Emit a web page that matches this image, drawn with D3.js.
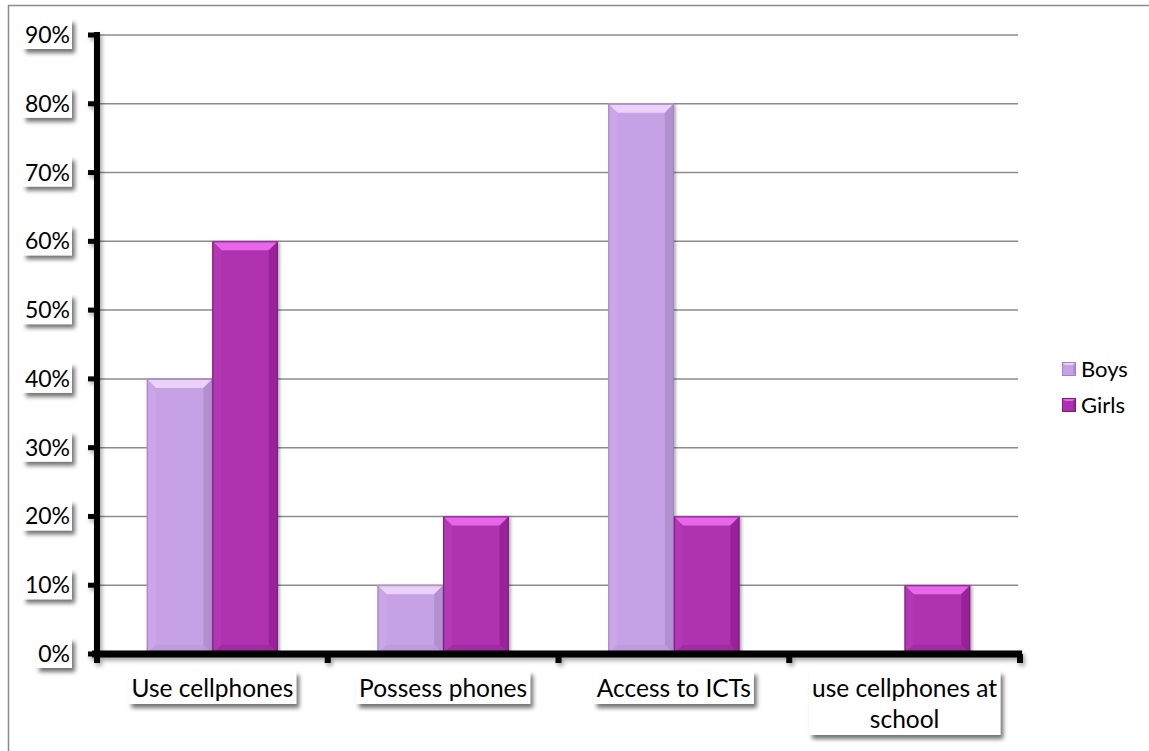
<!DOCTYPE html>
<html>
<head>
<meta charset="utf-8">
<script src="https://cdn.jsdelivr.net/npm/d3@7"></script>
<style>
  html, body { margin: 0; padding: 0; background: #fff; }
  svg { display: block; }
  text { font-family: Lato, "Open Sans", sans-serif; fill: #000; }
</style>
</head>
<body>
<svg id="chart" width="1149" height="751"></svg>
<script>
// Survey shares by group
const categories = ["Use cellphones", "Possess phones", "Access to ICTs", "use cellphones at school"];
const series = ["Boys", "Girls"];
const boys  = [0.40, 0.10, 0.80, 0.00];
const girls = [0.60, 0.20, 0.20, 0.10];
const yTicks = [0, 0.1, 0.2, 0.3, 0.4, 0.5, 0.6, 0.7, 0.8, 0.9];
const seriesValues = { Boys: boys, Girls: girls };

// Fill palette per series: base face plus bevel faces
const palette = {
  Boys:  { base: "#C6A1E6", top: "#EBD2FA", left: "#CAA6E8", right: "#B290D0", bottom: "#BE9ADE", edge: "#A383C0" },
  Girls: { base: "#AF30AF", top: "#E866EA", left: "#B337B3", right: "#972499", bottom: "#A42CA5", edge: "#7E1C80" }
};

const svg = d3.select("#chart");
const margin = { left: 97, right: 129, top: 35, bottom: 97 };
const W = 1149, H = 751;

const defs = svg.append("defs");
const boxShadow = defs.append("filter").attr("id", "boxShadow")
  .attr("x", "-20%").attr("y", "-30%").attr("width", "150%").attr("height", "180%");
boxShadow.append("feDropShadow").attr("dx", 3).attr("dy", 4).attr("stdDeviation", 2)
  .attr("flood-color", "#000").attr("flood-opacity", 0.55);
const barShadow = defs.append("filter").attr("id", "barShadow")
  .attr("x", "-20%").attr("y", "-10%").attr("width", "150%").attr("height", "130%");
barShadow.append("feDropShadow").attr("dx", 2).attr("dy", 1).attr("stdDeviation", 1.5)
  .attr("flood-color", "#000").attr("flood-opacity", 0.3);
const axisShadow = defs.append("filter").attr("id", "axisShadow")
  .attr("x", "-5%").attr("y", "-50%").attr("width", "110%").attr("height", "300%");
axisShadow.append("feDropShadow").attr("dx", 2).attr("dy", 3).attr("stdDeviation", 2)
  .attr("flood-color", "#000").attr("flood-opacity", 0.35);

// Outer chart frame
svg.append("rect")
  .attr("x", 8.5).attr("y", 5.5).attr("width", 1160).attr("height", 800)
  .attr("fill", "none").attr("stroke", "#8a8a8a").attr("stroke-width", 1.5);

const x0 = d3.scaleBand().domain(categories).range([margin.left, W - margin.right]).paddingInner(0).paddingOuter(0);
const x1 = d3.scaleBand().domain(series).range([0, x0.bandwidth()]).paddingInner(0).paddingOuter(0.76);
const y = d3.scaleLinear().domain([0, 0.9]).range([H - margin.bottom, margin.top]);

// Horizontal gridlines
svg.append("g").selectAll("line").data(yTicks.filter(d => d > 0)).join("line")
  .attr("x1", x0.range()[0]).attr("x2", x0.range()[1] - 2)
  .attr("y1", d => y(d)).attr("y2", d => y(d))
  .attr("stroke", "#8c8c8c").attr("stroke-width", 1.5);

// Bars with bevelled faces
const bars = [];
categories.forEach((c, i) => {
  series.forEach(s => {
    const v = seriesValues[s][i];
    if (v > 0) bars.push({ c, s, v });
  });
});

const barG = svg.append("g").selectAll("g").data(bars).join("g")
  .attr("filter", "url(#barShadow)");

barG.each(function (d) {
  const g = d3.select(this);
  const bx = x0(d.c) + x1(d.s);
  const bw = x1.bandwidth();
  const by = y(d.v);
  const bh = y(0) - by;
  const b = Math.min(9, bh / 2, bw / 2);
  const p = palette[d.s];
  g.append("rect").attr("x", bx).attr("y", by).attr("width", bw).attr("height", bh).attr("fill", p.base);
  const poly = (pts, fill) => g.append("polygon").attr("points", pts.map(q => q.join(",")).join(" ")).attr("fill", fill);
  poly([[bx, by], [bx + bw, by], [bx + bw - b, by + b], [bx + b, by + b]], p.top);
  poly([[bx, by], [bx + b, by + b], [bx + b, by + bh - b], [bx, by + bh]], p.left);
  poly([[bx + bw, by], [bx + bw, by + bh], [bx + bw - b, by + bh - b], [bx + bw - b, by + b]], p.right);
  poly([[bx, by + bh], [bx + b, by + bh - b], [bx + bw - b, by + bh - b], [bx + bw, by + bh]], p.bottom);
  g.append("rect").attr("x", bx + 0.5).attr("y", by + 0.5).attr("width", bw - 1).attr("height", bh - 1)
    .attr("fill", "none").attr("stroke", p.edge).attr("stroke-width", 1);
});

// Axes: heavy black lines with stub ticks
const axes = svg.append("g").attr("filter", "url(#axisShadow)");
const [xa, xb] = x0.range();
axes.append("line").attr("x1", xa).attr("x2", xa).attr("y1", y(0.9) - 3).attr("y2", y(0) + 4)
  .attr("stroke", "#000").attr("stroke-width", 6);
axes.selectAll(".ytick").data(yTicks).join("line").attr("class", "ytick")
  .attr("x1", xa - 9).attr("x2", xa).attr("y1", d => y(d)).attr("y2", d => y(d))
  .attr("stroke", "#000").attr("stroke-width", 5);
axes.append("line").attr("x1", xa - 5).attr("x2", xb + 2).attr("y1", y(0)).attr("y2", y(0))
  .attr("stroke", "#000").attr("stroke-width", 7);
const bounds = categories.map(c => x0(c)).concat([xb]);
axes.selectAll(".xtick").data(bounds).join("line").attr("class", "xtick")
  .attr("x1", d => d).attr("x2", d => d).attr("y1", y(0)).attr("y2", y(0) + 9)
  .attr("stroke", "#000").attr("stroke-width", 6);

// Boxed tick labels
function boxedLabel(parent, lines, xPos, yPos, anchor, lineH, padX, padY, size) {
  const g = parent.append("g");
  const rect = g.append("rect").attr("fill", "#fff").attr("filter", "url(#boxShadow)");
  const t = g.append("text").attr("text-anchor", anchor).style("font-size", size + "px");
  lines.forEach((ln, k) => {
    t.append("tspan").attr("x", xPos).attr("y", yPos + k * lineH).text(ln);
  });
  const bb = t.node().getBBox();
  rect.attr("x", bb.x - padX).attr("y", bb.y - padY).attr("width", bb.width + 2 * padX).attr("height", bb.height + 2 * padY);
  return g;
}

const yLabels = svg.append("g");
yTicks.forEach(d => {
  boxedLabel(yLabels, [d3.format(".0%")(d)], xa - 27, y(d) + 8, "end", 0, 2, 1, 23);
});

// Category labels, wrapped to fit the band
const xLabels = svg.append("g");
const wrapped = { "use cellphones at school": ["use cellphones at", "school"] };
categories.forEach(c => {
  const lines = wrapped[c] || [c];
  boxedLabel(xLabels, lines, x0(c) + x0.bandwidth() / 2, y(0) + 43, "middle", 31, 3, 2, 24.5);
});

// Legend
const legend = svg.append("g");
series.forEach((s, i) => {
  const ly = 369 + i * 36;
  const p = palette[s];
  const m = 14, bx = 1062, by = ly - 7, b = 3;
  const g = legend.append("g");
  g.append("rect").attr("x", bx).attr("y", by).attr("width", m).attr("height", m).attr("fill", p.base);
  g.append("polygon").attr("points", [[bx, by], [bx + m, by], [bx + m - b, by + b], [bx + b, by + b]].map(q => q.join(",")).join(" ")).attr("fill", p.top);
  g.append("polygon").attr("points", [[bx + m, by], [bx + m, by + m], [bx + m - b, by + m - b], [bx + m - b, by + b]].map(q => q.join(",")).join(" ")).attr("fill", p.right);
  g.append("rect").attr("x", bx + 0.5).attr("y", by + 0.5).attr("width", m - 1).attr("height", m - 1)
    .attr("fill", "none").attr("stroke", p.edge).attr("stroke-width", 1);
  g.append("text").attr("x", bx + 19).attr("y", ly + 8).style("font-size", "22px").text(s);
});
</script>
</body>
</html>
